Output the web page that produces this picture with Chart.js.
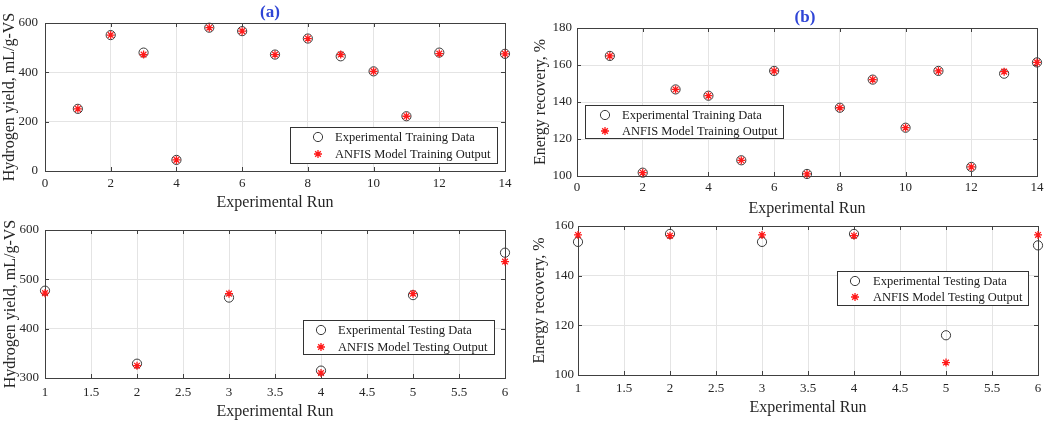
<!DOCTYPE html>
<html><head><meta charset="utf-8">
<script src="https://cdn.jsdelivr.net/npm/chart.js@4.4.1/dist/chart.umd.min.js"></script>
<style>
html,body{margin:0;padding:0;background:#fff;}
#wrap{position:relative;width:1052px;height:422px;overflow:hidden;background:#fff;}
.c{position:absolute;}
.ttl{position:absolute;font-family:"Liberation Serif","Times New Roman",serif;font-weight:bold;color:#2f45d6;font-size:17px;transform:translate(-50%,-50%);line-height:1;}
</style></head><body>
<div id="wrap">
  <div class="c" style="left:0;top:0;width:525px;height:212px"><canvas id="c1"></canvas></div>
  <div class="c" style="left:525px;top:0;width:527px;height:222px"><canvas id="c2"></canvas></div>
  <div class="c" style="left:0;top:212px;width:525px;height:210px"><canvas id="c3"></canvas></div>
  <div class="c" style="left:525px;top:212px;width:527px;height:210px"><canvas id="c4"></canvas></div>
  <div class="ttl" style="left:270px;top:11px">(a)</div>
  <div class="ttl" style="left:805px;top:16px">(b)</div>
</div>
<script>
// ---- data ----
const runsTrainA = [1, 2, 3, 4, 5, 6, 7, 8, 9, 10, 11, 12, 14];
const expTrainA = [252, 551, 480, 45, 581, 567, 472, 537, 465, 404, 222, 480, 475];
const anfisTrainA = [252, 551, 472, 45, 581, 567, 472, 537, 472, 404, 222, 476, 475];

const runsTrainB = [1, 2, 3, 4, 5, 6, 7, 8, 9, 10, 11, 12, 13, 14];
const expTrainB = [164.9, 101.8, 146.8, 143.4, 108.5, 156.8, 101.1, 136.9, 152.1, 126.1, 156.8, 104.9, 155.3, 161.4];
const anfisTrainB = [164.9, 101.8, 146.8, 143.4, 108.5, 156.8, 101.1, 136.9, 152.1, 126.1, 156.8, 104.9, 156.4, 161.4];

const runsTest = [1, 2, 3, 4, 5, 6];
const expTestA = [477, 329, 463, 315, 468, 554];
const anfisTestA = [472, 325, 471, 310, 471, 536];
const expTestB = [153.6, 156.8, 153.6, 156.8, 116.0, 152.2];
const anfisTestB = [156.4, 156.1, 156.4, 156.1, 105.0, 156.4];

const xTicksTrain = [0, 2, 4, 6, 8, 10, 12, 14];
const xTicksTest = [1, 1.5, 2, 2.5, 3, 3.5, 4, 4.5, 5, 5.5, 6];
const yTicksTrainA = [0, 200, 400, 600];
const yTicksTrainB = [100, 120, 140, 160, 180];
const yTicksTestA = [300, 400, 500, 600];
const yTicksTestB = [100, 120, 140, 160];

const labelExpTrain = 'Experimental Training Data';
const labelAnfisTrain = 'ANFIS Model Training Output';
const labelExpTest = 'Experimental Testing Data';
const labelAnfisTest = 'ANFIS Model Testing Output';
const xTitle = 'Experimental Run';
const yTitleA = 'Hydrogen yield, mL/g-VS';
const yTitleB = 'Energy recovery, %';

// ---- chart setup ----
Chart.defaults.font.family = '"Liberation Serif","Times New Roman",serif';
Chart.defaults.color = '#262626';
Chart.defaults.animation = false;

function circleSet(label, xs, ys) {
  return { label, data: xs.map((x, i) => ({ x, y: ys[i] })), pointStyle: 'circle', pointRadius: 4.6,
    pointBorderColor: '#3a3a3a', pointBackgroundColor: 'rgba(0,0,0,0)', pointBorderWidth: 1, order: 1, clip: false };
}
function starSet(label, xs, ys) {
  return { label, data: xs.map((x, i) => ({ x, y: ys[i] })), pointStyle: 'star', pointRadius: 4,
    pointBorderColor: '#ff1a1a', pointBackgroundColor: '#ff1a1a', pointBorderWidth: 1.3, order: 0, clip: false };
}

function drawMarker(ctx, ds, x, y) {
  ctx.save();
  ctx.strokeStyle = ds.pointBorderColor;
  ctx.lineWidth = ds.pointBorderWidth;
  const r = ds.pointRadius;
  ctx.beginPath();
  if (ds.pointStyle === 'circle') {
    ctx.arc(x, y, r, 0, Math.PI * 2);
  } else {
    for (let k = 0; k < 4; k++) {
      const a = k * Math.PI / 4;
      ctx.moveTo(x - r * Math.cos(a), y - r * Math.sin(a));
      ctx.lineTo(x + r * Math.cos(a), y + r * Math.sin(a));
    }
  }
  ctx.stroke();
  ctx.restore();
}

const boxPlugin = {
  id: 'boxTicks',
  beforeDatasetsDraw(chart) {
    const { ctx, chartArea: a, scales } = chart;
    ctx.save();
    ctx.strokeStyle = '#404040';
    ctx.lineWidth = 1;
    ctx.strokeRect(Math.round(a.left) + 0.5, Math.round(a.top) + 0.5, Math.round(a.right - a.left), Math.round(a.bottom - a.top));
    const tl = 4;
    ctx.beginPath();
    scales.x.ticks.forEach(t => {
      const px = Math.round(scales.x.getPixelForValue(t.value)) + 0.5;
      ctx.moveTo(px, a.bottom); ctx.lineTo(px, a.bottom - tl);
      ctx.moveTo(px, a.top); ctx.lineTo(px, a.top + tl);
    });
    scales.y.ticks.forEach(t => {
      const py = Math.round(scales.y.getPixelForValue(t.value)) + 0.5;
      ctx.moveTo(a.left, py); ctx.lineTo(a.left + tl, py);
      ctx.moveTo(a.right, py); ctx.lineTo(a.right - tl, py);
    });
    ctx.stroke();
    ctx.restore();
  }
};

const legendPlugin = {
  id: 'legendBox',
  afterDatasetsDraw(chart, args, o) {
    const ctx = chart.ctx;
    ctx.save();
    ctx.fillStyle = '#fff';
    ctx.fillRect(o.x, o.y, o.w, o.h);
    ctx.strokeStyle = '#333';
    ctx.lineWidth = 1;
    ctx.strokeRect(o.x + 0.5, o.y + 0.5, o.w, o.h);
    ctx.font = '12.5px "Liberation Serif","Times New Roman",serif';
    ctx.textBaseline = 'middle';
    ctx.textAlign = 'left';
    chart.data.datasets.forEach((ds, i) => {
      const yy = o.y + o.rows[i];
      drawMarker(ctx, ds, o.x + o.mx, yy);
      ctx.fillStyle = '#1a1a1a';
      ctx.fillText(ds.label, o.x + o.tx, yy + 1);
    });
    ctx.restore();
  }
};

function make(id, o) {
  new Chart(document.getElementById(id), {
    type: 'scatter',
    data: { datasets: o.datasets },
    options: {
      responsive: true, maintainAspectRatio: false, animation: false, events: [],
      layout: { padding: { left: 0, top: o.T, right: o.W - o.R, bottom: 0 } },
      plugins: { legend: { display: false }, tooltip: { enabled: false }, legendBox: o.legend },
      scales: {
        x: {
          type: 'linear', min: o.xmin, max: o.xmax,
          afterBuildTicks: s => { s.ticks = o.xticks.map(v => ({ value: v })); },
          afterFit: s => { s.height = o.H - o.B; },
          grid: { color: '#e4e4e4', drawTicks: false },
          border: { display: false },
          ticks: { padding: o.xpad, font: { size: 13 }, maxRotation: 0, autoSkip: false, callback: v => String(v) },
          title: { display: true, text: xTitle, font: { size: 16 }, padding: { top: 0, bottom: o.xtp } }
        },
        y: {
          type: 'linear', min: o.ymin, max: o.ymax,
          afterBuildTicks: s => { s.ticks = o.yticks.map(v => ({ value: v })); },
          afterFit: s => { s.width = o.L; },
          grid: { color: '#e4e4e4', drawTicks: false },
          border: { display: false },
          ticks: { padding: o.ypad, font: { size: 13 }, autoSkip: false, callback: v => String(v) },
          title: { display: true, text: o.ytitle, font: { size: 16 }, padding: { top: o.ytp, bottom: 0 } }
        }
      }
    },
    plugins: [boxPlugin, legendPlugin]
  });
}

make('c1', {
  datasets: [circleSet(labelExpTrain, runsTrainA, expTrainA), starSet(labelAnfisTrain, runsTrainA, anfisTrainA)],
  W: 525, H: 212, L: 45, T: 23, R: 505, B: 171,
  xmin: 0, xmax: 14, xticks: xTicksTrain, ymin: 0, ymax: 600, yticks: yTicksTrainA,
  ytitle: yTitleA, xpad: 5, ypad: 7, xtp: 0, ytp: 0,
  legend: { x: 290, y: 127, w: 207, h: 36, mx: 28, tx: 45, rows: [10, 27] }
});
make('c2', {
  datasets: [circleSet(labelExpTrain, runsTrainB, expTrainB), starSet(labelAnfisTrain, runsTrainB, anfisTrainB)],
  W: 527, H: 222, L: 52, T: 28, R: 512, B: 176,
  xmin: 0, xmax: 14, xticks: xTicksTrain, ymin: 100, ymax: 180, yticks: yTicksTrainB,
  ytitle: yTitleB, xpad: 4, ypad: 5, xtp: 4, ytp: 6,
  legend: { x: 60, y: 105, w: 198, h: 33, mx: 20, tx: 37, rows: [10, 26] }
});
make('c3', {
  datasets: [circleSet(labelExpTest, runsTest, expTestA), starSet(labelAnfisTest, runsTest, anfisTestA)],
  W: 525, H: 210, L: 45, T: 18, R: 505, B: 166,
  xmin: 1, xmax: 6, xticks: xTicksTest, ymin: 300, ymax: 600, yticks: yTicksTestA,
  ytitle: yTitleA, xpad: 7, ypad: 6, xtp: 1, ytp: 1,
  legend: { x: 303, y: 108, w: 191, h: 34, mx: 18, tx: 35, rows: [10, 27] }
});
make('c4', {
  datasets: [circleSet(labelExpTest, runsTest, expTestB), starSet(labelAnfisTest, runsTest, anfisTestB)],
  W: 527, H: 210, L: 53, T: 14, R: 513, B: 163,
  xmin: 1, xmax: 6, xticks: xTicksTest, ymin: 100, ymax: 160, yticks: yTicksTestB,
  ytitle: yTitleB, xpad: 6, ypad: 4, xtp: 5, ytp: 5,
  legend: { x: 312, y: 59, w: 191, h: 34, mx: 18, tx: 36, rows: [10, 26] }
});
</script>
</body></html>
